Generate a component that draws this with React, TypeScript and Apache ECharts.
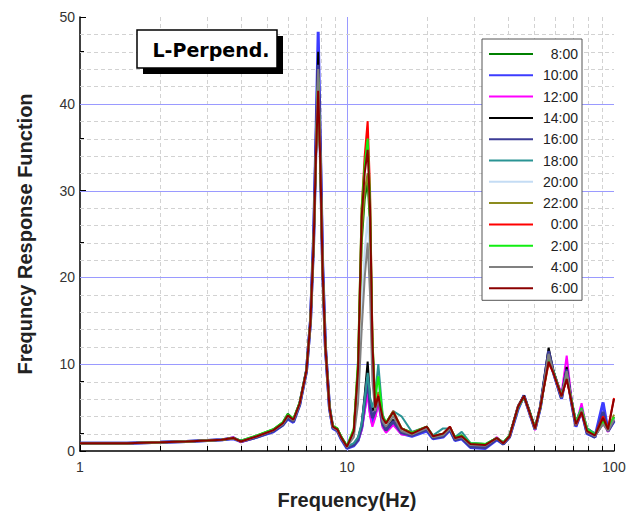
import React, { useEffect, useRef } from "react";
import * as echarts from "echarts";

// Frequencies (Hz) shared by all curves
const FREQ = [
  1, 1.5, 2, 2.5, 3,
  3.4, 3.75, 4.0, 4.6, 5.3,
  5.75, 6.0, 6.3, 6.65, 7.05,
  7.3, 7.5, 7.65, 7.8, 7.95,
  8.1, 8.3, 8.6, 8.85, 9.2,
  9.5, 10.0, 10.6, 11.0, 11.35,
  11.65, 11.95, 12.2, 12.45, 12.75,
  13.1, 13.6, 14.0, 14.9, 16.0,
  17.5, 19.9, 21, 22.9, 24.3,
  25.4, 26.9, 29, 33, 36.4,
  38.5, 40.6, 43.7, 46, 48,
  50.6, 53, 56.9, 59.3, 63.6,
  66.5, 69.2, 72, 75.6, 79.3,
  84.8, 91, 95, 100,
];

const S_0800 = [0.9,0.9,1.0,1.1,1.2, 1.3,1.5,1.2,1.8,2.5, 3.3,4.3,3.7,5.6,9.4, 15,24,34,44,33, 21,12,5.1,2.9,2.6, 1.7,0.6,2.2,9,24, 29,31,26,12,5, 7,3.9,3.2,4.4,2.6, 2.1,2.7,1.7,2.0,2.6, 1.6,1.8,0.9,0.8,1.5, 1.0,1.8,5.0,6.2,4.8, 2.7,5.0,10.8,9.2,6.4, 8.5,6.0,3.4,4.9,2.6, 2.0,3.3,2.6,3.8];
const S_1000 = [0.9,0.9,1.0,1.1,1.2, 1.3,1.4,1.1,1.6,2.2, 3.0,3.7,3.3,5.3,9.2, 15,25,36,48.3,35, 22,12,4.9,2.6,2.3, 1.4,0.3,0.6,1.2,2.6, 5,7.5,4.6,3.2,4.2, 6.0,3.0,2.3,3.2,2.0, 1.7,2.3,1.4,1.6,2.4, 1.2,1.4,0.4,0.3,1.3, 0.8,1.6,4.8,6.4,4.6, 2.5,5.0,11.3,9.0,6.0, 9.2,5.7,2.8,4.6,2.0, 1.6,5.6,2.3,3.4];
const S_1200 = [0.9,0.9,1.0,1.1,1.2, 1.3,1.6,1.0,1.6,2.3, 3.1,3.9,3.4,5.4,9.2, 15,24,35,45,34, 21,12,5,2.7,2.4, 1.5,0.4,0.7,1.2,2.4, 4.6,6.6,4.0,2.8,3.8, 5.4,2.7,2.1,3.0,1.9, 1.8,2.6,1.5,1.8,2.5, 1.4,1.6,0.6,0.5,1.6, 0.9,1.6,5.0,6.2,4.6, 2.4,5.0,10.8,9.2,6.6, 11.0,6.2,3.0,5.5,2.3, 1.7,3.2,2.2,3.6];
const S_1400 = [0.9,0.9,1.0,1.1,1.2, 1.3,1.5,1.1,1.7,2.3, 3.1,4.0,3.5,5.4,9.3, 15,24,35,46,34, 21,12,5,2.7,2.4, 1.5,0.4,0.8,1.4,3.0, 6.5,10.3,6.0,4.6,5.2, 7.0,3.3,2.6,3.6,2.2, 1.9,2.6,1.5,1.8,2.6, 1.4,1.6,0.7,0.6,1.5, 0.9,1.7,5.2,6.4,4.8, 2.6,5.2,11.9,9.2,6.2, 9.7,5.8,3.0,4.8,2.2, 1.7,3.2,2.4,3.9];
const S_1600 = [0.9,0.9,1.0,1.1,1.2, 1.3,1.5,1.1,1.6,2.3, 3.0,3.8,3.4,5.4,9.2, 15,24,35,44.5,34, 21,12,5,2.7,2.4, 1.5,0.4,0.7,1.3,2.8, 5.6,8.5,5.2,3.8,4.6, 6.4,3.1,2.4,3.4,2.1, 1.8,2.5,1.5,1.7,2.5, 1.3,1.5,0.5,0.4,1.4, 0.8,1.6,5.0,6.3,4.7, 2.5,5.1,11.5,9.1,6.1, 9.4,5.8,2.9,4.7,2.1, 1.6,4.5,2.3,3.5];
const S_1800 = [0.9,0.9,1.0,1.1,1.2, 1.3,1.5,1.1,1.7,2.4, 3.2,4.1,3.6,5.5,9.3, 15,24,34,43,33, 21,12,5.1,2.8,2.5, 1.6,0.5,0.9,1.6,3.2, 6.0,9.0,6.2,5.0,6.5, 10.0,4.2,3.2,4.6,4.0, 2.2,2.8,1.8,2.6,2.6, 1.6,2.2,0.9,0.8,1.5, 1.0,1.8,5.0,6.2,4.7, 2.6,5.0,10.8,9.0,6.4, 8.8,6.0,3.4,5.0,2.6, 2.0,3.4,2.5,3.7];
const S_2000 = [0.9,0.9,1.0,1.1,1.2, 1.3,1.5,1.1,1.7,2.4, 3.2,4.1,3.6,5.5,9.3, 15,24,34,42.5,33, 21,12,5,2.8,2.5, 1.6,0.5,1.8,6.5,17, 23,27,21,10,5, 7.5,3.8,3.1,4.4,2.5, 2.0,2.7,1.7,1.9,2.7, 1.5,1.7,0.8,0.7,1.5, 0.9,1.7,5.1,6.2,4.7, 2.6,5.1,10.8,9.0,6.3, 8.8,5.9,3.2,4.8,2.4, 1.8,3.4,2.4,3.8];
const S_2200 = [0.9,0.9,1.0,1.1,1.2, 1.3,1.5,1.1,1.7,2.4, 3.2,4.1,3.6,5.5,9.3, 15,24,34,43.5,33, 21,12,5,2.8,2.5, 1.6,0.5,2.2,9,25, 30,32,27,12,5, 6.8,3.9,3.2,4.5,2.6, 2.0,2.7,1.6,1.9,2.7, 1.5,1.7,0.8,0.7,1.5, 0.9,1.7,5.1,6.3,4.7, 2.6,5.1,11.0,9.0,6.3, 8.8,5.9,3.2,4.8,2.4, 1.8,3.5,2.4,4.2];
const S_0000 = [0.9,0.9,1.0,1.1,1.2, 1.3,1.5,1.1,1.7,2.4, 3.2,4.1,3.6,5.5,9.3, 15,24,34,42,33, 21,12,5,2.8,2.5, 1.6,0.5,2.4,10,28, 34,38,30,13,5, 6.5,3.8,3.2,4.6,2.6, 2.1,2.8,1.7,2.0,2.8, 1.5,1.7,0.8,0.7,1.5, 0.9,1.7,5.1,6.3,4.7, 2.6,5.1,10.1,9.0,6.3, 8.2,5.8,3.0,4.4,2.2, 1.8,4.0,2.6,6.1];
const S_0200 = [0.9,0.9,1.0,1.1,1.2, 1.3,1.5,1.2,1.8,2.5, 3.3,4.2,3.7,5.6,9.4, 15,24,34,43,33, 21,12,5.1,2.9,2.6, 1.7,0.6,2.6,10.5,28, 33,36,29,13,6, 8.6,4.0,3.3,4.5,2.6, 2.1,2.8,1.7,2.0,2.7, 1.6,1.8,0.9,0.8,1.5, 1.0,1.8,5.0,6.2,4.8, 2.7,5.0,10.5,9.2,6.4, 8.6,6.0,3.3,4.9,2.5, 1.9,3.4,2.5,3.9];
const S_0400 = [0.9,0.9,1.0,1.1,1.2, 1.3,1.5,1.1,1.7,2.4, 3.1,4.0,3.5,5.4,9.3, 15,24,35,44,34, 21,12,5,2.7,2.4, 1.5,0.5,1.6,5.5,14, 20,24,18,8,4.6, 6.0,3.4,2.8,4.0,2.3, 1.9,2.6,1.6,1.8,2.6, 1.4,1.6,0.7,0.6,1.5, 0.9,1.7,5.1,6.3,4.7, 2.5,5.1,11.2,9.1,6.2, 9.2,5.8,3.0,4.7,2.2, 1.7,3.1,2.3,3.6];
const S_0600 = [0.9,0.9,1.0,1.1,1.2, 1.3,1.5,1.1,1.7,2.4, 3.2,4.1,3.6,5.5,9.3, 15,24,34,41.5,33, 21,12,5,2.8,2.5, 1.6,0.5,2.3,9.5,27, 32,34.7,28,12.5,5, 6.3,3.8,3.2,4.5,2.6, 2.0,2.8,1.7,2.0,2.8, 1.5,1.7,0.8,0.7,1.5, 0.9,1.7,5.1,6.3,4.7, 2.6,5.1,10.3,9.0,6.3, 8.3,5.8,3.1,4.5,2.3, 1.8,3.8,2.5,6.0];

const SERIES_NAMES = ["8:00", "10:00", "12:00", "14:00", "16:00", "18:00", "20:00", "22:00", "0:00", "2:00", "4:00", "6:00"];
const SERIES_VALUES = [S_0800, S_1000, S_1200, S_1400, S_1600, S_1800, S_2000, S_2200, S_0000, S_0200, S_0400, S_0600];
const SERIES_COLORS = ["#008000", "#3c3cff", "#ff00ff", "#000000", "#3c3c96", "#2a9494", "#c4dcf4", "#8c8c1e", "#ff0000", "#11ee11", "#808080", "#8b0000"];
const SERIES_WIDTHS = [2, 3, 2, 2, 3, 2, 2, 2, 2, 2, 2, 2];

// Grid/tick positions
const X_MINOR_TICKS = [2, 3, 4, 5, 6, 7, 8, 9, 20, 30, 40, 50, 60, 70, 80, 90];
const X_MAJOR_LINES = [10];
const Y_MINOR_LINES = [2, 4, 6, 8, 12, 14, 16, 18, 22, 24, 26, 28, 32, 34, 36, 38, 42, 44, 46, 48];
const Y_MAJOR_LINES = [10, 20, 30, 40];

const FONT = "'Liberation Sans', Arial, Helvetica, sans-serif";

export default function App() {
  const ref = useRef<HTMLDivElement>(null);
  useEffect(() => {
    if (!ref.current) return;
    const chart = echarts.init(ref.current, null, { renderer: "svg" });

    const gridData: any[] = [];
    X_MINOR_TICKS.forEach((f) => gridData.push([f, 0, 0]));
    X_MAJOR_LINES.forEach((f) => gridData.push([f, 0, 1]));
    Y_MINOR_LINES.forEach((v) => gridData.push([1, v, 2]));
    Y_MAJOR_LINES.forEach((v) => gridData.push([1, v, 3]));

    const lineSeries = SERIES_NAMES.map((name, i) => ({
      name,
      type: "line",
      data: FREQ.map((f, j) => [f, SERIES_VALUES[i][j]]),
      showSymbol: false,
      symbol: "none",
      z: 3,
      lineStyle: { color: SERIES_COLORS[i], width: SERIES_WIDTHS[i] },
      itemStyle: { color: SERIES_COLORS[i] },
      emphasis: { disabled: true },
    }));

    chart.setOption({
      animation: false,
      backgroundColor: "#ffffff",
      grid: { left: 80, right: 16, top: 17, bottom: 70, containLabel: false },
      xAxis: {
        type: "log",
        logBase: 10,
        min: 1,
        max: 100,
        name: "Frequency(Hz)",
        nameLocation: "middle",
        nameGap: 39,
        nameTextStyle: { fontFamily: FONT, fontWeight: "bold", fontSize: 20, color: "#222" },
        axisLine: { show: true, lineStyle: { color: "#000", width: 1.5 } },
        axisTick: { show: true, inside: true, length: 7, lineStyle: { color: "#000" } },
        axisLabel: { fontFamily: FONT, fontSize: 14, color: "#333", margin: 9 },
        splitLine: { show: false },
      },
      yAxis: {
        type: "value",
        min: 0,
        max: 50,
        interval: 10,
        name: "Frequncy Response Function",
        nameLocation: "middle",
        nameGap: 45,
        nameTextStyle: { fontFamily: FONT, fontWeight: "bold", fontSize: 20, color: "#222" },
        axisLine: { show: true, lineStyle: { color: "#000", width: 1.5 } },
        axisTick: { show: true, inside: true, length: 6, lineStyle: { color: "#000" } },
        minorTick: { show: true, splitNumber: 5, length: 4, lineStyle: { color: "#000" } },
        axisLabel: { fontFamily: FONT, fontSize: 14, color: "#333", margin: 5 },
        splitLine: { show: false },
      },
      legend: {
        orient: "vertical",
        left: 482,
        top: 39,
        data: SERIES_NAMES,
        itemWidth: 44,
        itemHeight: 14,
        itemGap: 7.3,
        padding: [8, 4, 5, 6],
        backgroundColor: "#ffffff",
        borderColor: "#555",
        borderWidth: 1,
        borderRadius: 0,
        selectedMode: false,
        itemStyle: { opacity: 0, borderWidth: 0 },
        formatter: (name: string) => `{t|${name}}`,
        textStyle: {
          fontFamily: FONT,
          fontSize: 14,
          color: "#222",
          rich: { t: { width: 40, align: "right", fontFamily: FONT, fontSize: 14, color: "#222" } },
        },
      },
      graphic: [
        { type: "rect", z: 10, shape: { x: 143, y: 36, width: 140, height: 38 }, style: { fill: "#000" } },
        { type: "rect", z: 11, shape: { x: 137, y: 30, width: 140, height: 38 }, style: { fill: "#fff", stroke: "#000", lineWidth: 1.5 } },
        {
          type: "text",
          z: 12,
          x: 211,
          y: 50,
          style: { text: "L-Perpend.", font: "bold 19px 'DejaVu Sans', sans-serif", fill: "#000", align: "center", verticalAlign: "middle" },
        },
      ],
      series: [
        {
          name: "grid",
          type: "custom",
          z: 1,
          silent: true,
          encode: { x: 0, y: 1 },
          data: gridData,
          renderItem: (params: any, api: any) => {
            const kind = api.value(2);
            const cs = params.coordSys;
            if (kind === 0 || kind === 1) {
              const px = Math.round(api.coord([api.value(0), 1])[0]) + 0.5;
              const children: any[] = [
                {
                  type: "line",
                  shape: { x1: px, y1: cs.y, x2: px, y2: cs.y + cs.height },
                  style: kind === 0 ? { stroke: "#d2d2d2", lineWidth: 1, lineDash: [4, 3] } : { stroke: "#9a9aff", lineWidth: 1 },
                },
              ];
              if (kind === 0) {
                children.push({
                  type: "line",
                  shape: { x1: px, y1: cs.y + cs.height, x2: px, y2: cs.y + cs.height - 5 },
                  style: { stroke: "#000", lineWidth: 1 },
                });
              }
              return { type: "group", children };
            }
            const py = Math.round(api.coord([1, api.value(1)])[1]) + 0.5;
            return {
              type: "line",
              shape: { x1: cs.x, y1: py, x2: cs.x + cs.width, y2: py },
              style: kind === 2 ? { stroke: "#d2d2d2", lineWidth: 1, lineDash: [4, 3] } : { stroke: "#9a9aff", lineWidth: 1 },
            };
          },
        },
        ...lineSeries,
      ],
    });
    return () => chart.dispose();
  }, []);
  return <div ref={ref} style={{ position: "fixed", left: 0, top: 0, width: 630, height: 521, background: "#fff" }} />;
}
